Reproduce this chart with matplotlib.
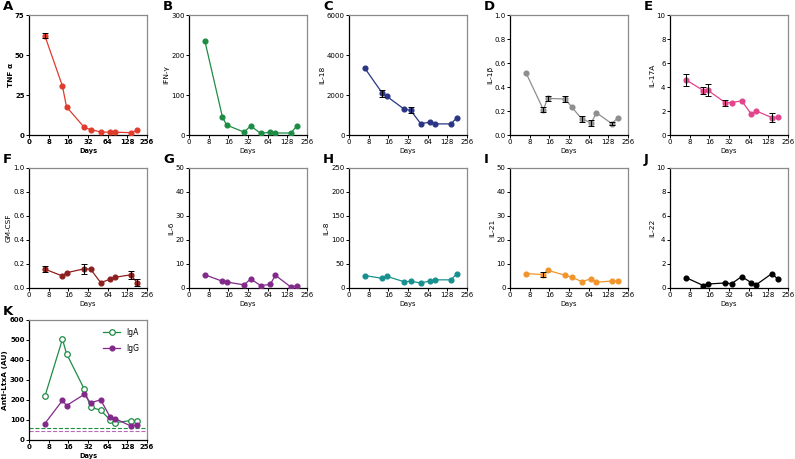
import numpy as np
import matplotlib
matplotlib.use("Agg")
import matplotlib.pyplot as plt

# sampling days (x axis, log2 spaced)
days = [7, 13, 15, 28, 35, 50, 70, 84, 145, 180]

# cytokine means
tnfa = [62, 30.6, 17.6, 4.8, 3.4, 1.9, 1.7, 1.7, 1.5, 2.9]
tnfa_err = [1.5, 0, 0, 0, 0, 0, 0, 0, 0, 0]
ifng = [235, 45, 25, 7, 23, 4, 7, 5, 5, 23]
il18 = [3335, 2080, 1945, 1290, 1240, 570, 640, 555, 555, 870]
il18_err = [0, 160, 0, 0, 160, 0, 0, 0, 0, 0]
il1b = [0.52, 0.21, 0.305, 0.30, 0.235, 0.135, 0.10, 0.185, 0.095, 0.145]
il1b_err = [0, 0.02, 0.02, 0.025, 0, 0.025, 0.025, 0, 0.012, 0]
il17a = [4.6, 3.7, 3.75, 2.7, 2.7, 2.85, 1.75, 2.0, 1.45, 1.5]
il17a_err = [0.5, 0.3, 0.5, 0.25, 0, 0, 0, 0, 0.35, 0]
gmcsf = [0.157, 0.10, 0.127, 0.16, 0.157, 0.045, 0.073, 0.09, 0.11, 0.045]
gmcsf_err = [0.025, 0, 0, 0.04, 0, 0, 0, 0, 0.035, 0.03]
il6 = [5.5, 2.8, 2.5, 1.3, 3.8, 1.0, 1.5, 5.3, 0.4, 1.0]
il8 = [26, 20, 24.5, 13, 14, 10.5, 14.7, 17, 17, 30]
il21 = [6.0, 5.6, 7.4, 5.3, 4.5, 2.7, 3.8, 2.4, 2.9, 2.9]
il21_err = [0, 0.9, 0, 0, 0, 0, 0, 0, 0, 0]
il22 = [0.87, 0.2, 0.33, 0.42, 0.36, 0.95, 0.45, 0.28, 1.2, 0.73]

# antibody titres
iga = [218, 504, 432, 255, 164, 149, 100, 87, 97, 97]
igg = [82, 198, 172, 228, 186, 201, 114, 106, 70, 77]
iga_cutoff = 60
igg_cutoff = 47

xticks = [4, 8, 16, 32, 64, 128, 256]
xticklabels = ['0', '8', '16', '32', '64', '128', '256']

W, H = 795, 459
fig = plt.figure(figsize=(W / 100, H / 100), dpi=100)

lefts = [29, 189, 349, 510, 670]
tops = [15, 168, 320]
aw, ah = 118, 120


def make_ax(col, row):
    ax = fig.add_axes([lefts[col] / W, 1 - (tops[row] + ah) / H, aw / W, ah / H])
    return ax


def style(ax, ymax, ystep, ylabel, letter, bold=False, fmt=None):
    w = 'bold' if bold else 'normal'
    ax.set_xscale('log', base=2)
    ax.set_xlim(4, 256)
    ax.set_xticks(xticks)
    ax.set_xticklabels(xticklabels, fontsize=5, fontweight=w)
    ax.minorticks_off()
    ax.set_ylim(0, ymax)
    yt = np.arange(0, ymax + ystep / 2, ystep)
    ax.set_yticks(yt)
    if fmt:
        ax.set_yticklabels([fmt.format(v) for v in yt], fontsize=5, fontweight=w)
    else:
        ax.set_yticklabels([str(int(v)) for v in yt], fontsize=5, fontweight=w)
    ax.tick_params(length=2, width=0.7, pad=1.2)
    ax.set_xlabel('Days', fontsize=4.8, fontweight=w, labelpad=1.5)
    ax.set_ylabel(ylabel, fontsize=5.3, fontweight=w, labelpad=1)
    for s in ['left', 'bottom']:
        ax.spines[s].set_linewidth(0.9)
        ax.spines[s].set_color('black')
    for s in ['top', 'right']:
        ax.spines[s].set_linewidth(0.9)
        ax.spines[s].set_color('#8a8a8a')
    pos = ax.get_position()
    fig.text(pos.x0 - 26 / W, pos.y1 + 5 / H, letter, fontsize=9.5,
             fontweight='bold', va='baseline', ha='left')


def series(ax, y, color, err=None):
    ax.plot(days, y, '-o', color=color, lw=0.9, ms=3.4, zorder=3)
    if err is not None:
        e = np.array(err)
        m = e > 0
        ax.errorbar(np.array(days)[m], np.array(y)[m], yerr=e[m], fmt='none',
                    ecolor='black', elinewidth=0.7, capsize=2, capthick=0.7, zorder=4)


ax = make_ax(0, 0)
series(ax, tnfa, '#e03b2c', tnfa_err)
style(ax, 75, 25, 'TNF α', 'A', bold=True)

ax = make_ax(1, 0)
series(ax, ifng, '#1e8c45')
style(ax, 300, 100, 'IFN-γ', 'B')

ax = make_ax(2, 0)
series(ax, il18, '#2a3585', il18_err)
style(ax, 6000, 2000, 'IL-18', 'C')

ax = make_ax(3, 0)
series(ax, il1b, '#8e8e8e', il1b_err)
style(ax, 1.0, 0.2, 'IL-1β', 'D', fmt='{:.1f}')

ax = make_ax(4, 0)
series(ax, il17a, '#e2448c', il17a_err)
style(ax, 10, 2, 'IL-17A', 'E')

ax = make_ax(0, 1)
series(ax, gmcsf, '#8e1f1f', gmcsf_err)
style(ax, 1.0, 0.2, 'GM-CSF', 'F', fmt='{:.1f}')

ax = make_ax(1, 1)
series(ax, il6, '#82298a')
style(ax, 50, 10, 'IL-6', 'G')

ax = make_ax(2, 1)
series(ax, il8, '#16918f')
style(ax, 250, 50, 'IL-8', 'H')

ax = make_ax(3, 1)
series(ax, il21, '#f1942c', il21_err)
style(ax, 50, 10, 'IL-21', 'I')

ax = make_ax(4, 1)
series(ax, il22, 'black')
style(ax, 10, 2, 'IL-22', 'J')

ax = make_ax(0, 2)
ax.plot(days, iga, '-o', color='#1e8c45', mfc='white', mew=0.9, lw=0.9, ms=4, label='IgA', zorder=3)
ax.plot(days, igg, '-o', color='#82298a', lw=0.9, ms=3.4, label='IgG', zorder=3)
ax.axhline(iga_cutoff, color='#1e8c45', ls='--', lw=0.8)
ax.axhline(igg_cutoff, color='#b36bb8', ls='--', lw=0.8)
style(ax, 600, 100, 'Anti-LtxA (AU)', 'K', bold=True)
ax.legend(loc='upper right', fontsize=5.5, frameon=False, handlelength=2.2,
          borderaxespad=0.6, labelspacing=0.9)

plt.savefig('out.png', dpi=100)
